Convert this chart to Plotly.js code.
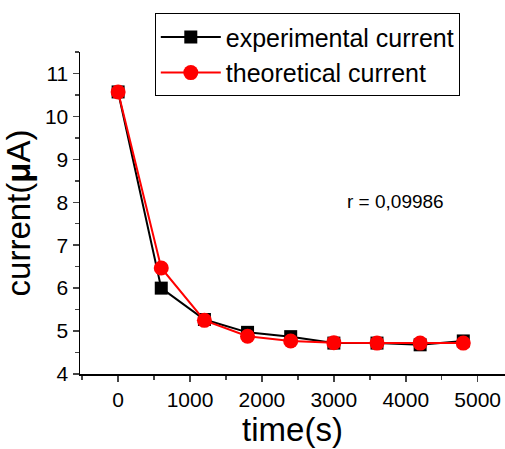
<!DOCTYPE html>
<html>
<head>
<meta charset="utf-8">
<script src="https://cdn.plot.ly/plotly-3.0.1.min.js"></script>
<style>html,body{margin:0;padding:0;background:#fff;}#chart{width:505px;height:449px;}</style>
</head>
<body>
<div id="chart"></div>
<script>
const timeS = [0, 600, 1200, 1800, 2400, 3000, 3600, 4200, 4800];
const experimentalCurrent = [10.57, 6.00, 5.27, 4.97, 4.87, 4.72, 4.72, 4.68, 4.77];
const theoreticalCurrent = [10.57, 6.47, 5.25, 4.88, 4.77, 4.73, 4.72, 4.72, 4.72];
const xTicks = [0, 1000, 2000, 3000, 4000, 5000];
const yTicks = [4, 5, 6, 7, 8, 9, 10, 11];
const rLabel = 'r = 0,09986';

const font = 'Liberation Sans, Arial, sans-serif';
const traces = [
  {x: timeS, y: experimentalCurrent, name: 'experimental current', mode: 'lines+markers',
   line: {color: '#000', width: 2}, marker: {symbol: 'square', size: 13, color: '#000'}},
  {x: timeS, y: theoreticalCurrent, name: 'theoretical current', mode: 'lines+markers',
   line: {color: '#ff0000', width: 2}, marker: {symbol: 'circle', size: 15, color: '#ff0000'}}
];
const layout = {
  width: 505, height: 449,
  margin: {l: 80, r: 0, t: 52, b: 75},
  paper_bgcolor: '#fff', plot_bgcolor: '#fff',
  font: {family: font, color: '#000'},
  showlegend: true,
  legend: {x: 0.176, xanchor: 'left', y: 1.12, yanchor: 'top', bgcolor: '#fff',
    bordercolor: '#000', borderwidth: 1, font: {size: 25, family: font}, itemwidth: 60,
    tracegroupgap: 0},
  xaxis: {range: [-530, 5380], tickvals: xTicks, ticks: 'outside', ticklen: 6, tickwidth: 1.5,
    showgrid: false, zeroline: false, showline: true, linecolor: '#000', linewidth: 1.5,
    tickfont: {size: 21, family: font},
    minor: {dtick: 500, ticks: 'outside', ticklen: 4, tickwidth: 1.5, showgrid: false},
    title: {text: 'time(s)', font: {size: 33, family: font}, standoff: 4}},
  yaxis: {range: [4, 11.5], tickvals: yTicks, ticks: 'outside', ticklen: 6, tickwidth: 1.5,
    showgrid: false, zeroline: false, showline: true, linecolor: '#000', linewidth: 1.5,
    tickfont: {size: 21, family: font},
    minor: {dtick: 0.5, ticks: 'outside', ticklen: 4, tickwidth: 1.5, showgrid: false},
    title: {text: 'current(<b>μ</b>A)', font: {size: 33, family: font}, standoff: 4}},
  annotations: [{x: 3150, y: 8.02, xref: 'x', yref: 'y', text: rLabel, showarrow: false,
    xanchor: 'left', yanchor: 'middle', font: {size: 19, family: font}}]
};
Plotly.newPlot('chart', traces, layout, {displayModeBar: false, staticPlot: true});
</script>
</body>
</html>
